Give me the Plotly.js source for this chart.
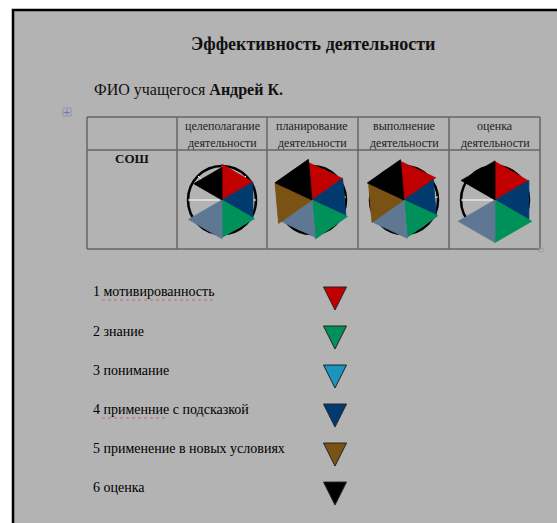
<!DOCTYPE html>
<html>
<head>
<meta charset="utf-8">
<script src="https://cdn.plot.ly/plotly-3.0.1.min.js"></script>
<style>
html,body{margin:0;padding:0;background:#fff;}
#chart{width:557px;height:523px;}
</style>
</head>
<body>
<div id="chart"></div>
<script>
// ---------- data ----------
const pageTitle = 'Эффективность деятельности';
const studentLabel = 'ФИО учащегося';
const studentName = 'Андрей К.';
const rowLabel = 'СОШ';
const headerLine1 = ['целеполагание', 'планирование', 'выполнение', 'оценка'];
const headerLine2 = ['деятельности', 'деятельности', 'деятельности', 'деятельности'];

// sectors clockwise from the top
const sectorNames = ['мотивированность', 'применние с подсказкой', 'знание', 'понимание', 'применение в новых условиях', 'оценка'];
const sectorColors = ['#c00000', '#003a6e', '#00905a', '#5e7893', '#7a5214', '#000000'];

// radius of each triangle (1 = outer ring)
const goalSetting = [1.05, 1.05, 1.10, 1.14, 0.00, 0.96];
const planning    = [1.10, 1.10, 1.15, 1.10, 1.20, 1.20];
const execution   = [1.14, 1.05, 1.10, 1.13, 1.15, 1.19];
const evaluation  = [1.13, 1.15, 1.25, 1.25, 0.00, 1.15];
const chartValues = [goalSetting, planning, execution, evaluation];

// legend list
const legendLabels = ['1 мотивированность', '2 знание', '3 понимание', '4 применние с подсказкой', '5 применение в новых условиях', '6 оценка'];
const legendColors = ['#c00000', '#00905a', '#1a95bd', '#003a6e', '#7a5214', '#000000'];

// ---------- layout helpers ----------
const W = 557, H = 523;
const px = x => x / W;
const py = y => 1 - y / H;
const serif = 'Liberation Serif, Times New Roman, serif';

const colLines = [87, 177, 267, 358, 449, 540];
const colCenters = [222, 312, 404, 495];
const chartRot = [90, 95, 95, 90];
const chartCy = 200;
const rMax = 1.4, pxPerUnit = 34;
const half = rMax * pxPerUnit;

const traces = [];
const layout = {
  width: W, height: H,
  margin: {l: 0, r: 0, t: 0, b: 0},
  paper_bgcolor: '#ffffff',
  plot_bgcolor: 'rgba(0,0,0,0)',
  showlegend: false,
  font: {family: serif, color: '#111'},
  shapes: [],
  annotations: []
};

// page background box
layout.shapes.push({type: 'rect', xref: 'paper', yref: 'paper', layer: 'below',
  x0: px(13), x1: 1.05, y0: py(10), y1: -0.05,
  fillcolor: '#b3b3b3', line: {color: '#000', width: 2.5}});

// table grid
const tblTop = 117, tblHead = 150, tblBot = 249;
colLines.forEach(x => layout.shapes.push({type: 'line', xref: 'paper', yref: 'paper', layer: 'below',
  x0: px(x), x1: px(x), y0: py(tblTop), y1: py(tblBot), line: {color: '#666', width: 1.5}}));
[tblTop, tblHead, tblBot].forEach(y => layout.shapes.push({type: 'line', xref: 'paper', yref: 'paper', layer: 'below',
  x0: px(colLines[0]), x1: px(colLines[colLines.length - 1]), y0: py(y), y1: py(y), line: {color: '#666', width: 1.5}}));
// table handles
layout.shapes.push({type: 'rect', xref: 'paper', yref: 'paper', layer: 'below',
  x0: px(63), x1: px(71), y0: py(108), y1: py(116), fillcolor: 'rgba(0,0,0,0)', line: {color: '#8a96b8', width: 1}});
layout.shapes.push({type: 'rect', xref: 'paper', yref: 'paper', layer: 'below',
  x0: px(539), x1: px(543), y0: py(248), y1: py(252), fillcolor: 'rgba(0,0,0,0)', line: {color: '#999', width: 0.8}});
layout.annotations.push({xref: 'paper', yref: 'paper', x: px(67), y: py(112), text: '+', showarrow: false,
  font: {size: 9, color: '#5a6fb0', family: 'DejaVu Sans'}, xanchor: 'center', yanchor: 'middle'});

// spell-check underlines
[[102, 213, 300], [102, 168, 418]].forEach(s => layout.shapes.push({type: 'line', xref: 'paper', yref: 'paper',
  x0: px(s[0]), x1: px(s[1]), y0: py(s[2]), y1: py(s[2]), line: {color: '#c86a6a', width: 1, dash: 'dot'}}));

// texts
layout.annotations.push({xref: 'paper', yref: 'paper', x: px(313), y: py(44), text: '<b>' + pageTitle + '</b>',
  showarrow: false, font: {size: 18, color: '#111', family: serif}, xanchor: 'center', yanchor: 'middle'});
layout.annotations.push({xref: 'paper', yref: 'paper', x: px(92), y: py(90), text: studentLabel + ' <b>' + studentName + '</b>',
  showarrow: false, font: {size: 16, color: '#111', family: serif}, xanchor: 'left', yanchor: 'middle'});
layout.annotations.push({xref: 'paper', yref: 'paper', x: px(132), y: py(159), text: '<b>' + rowLabel + '</b>',
  showarrow: false, font: {size: 13, color: '#111', family: serif}, xanchor: 'center', yanchor: 'middle'});
headerLine1.forEach((t, i) => {
  layout.annotations.push({xref: 'paper', yref: 'paper', x: px(colCenters[i]), y: py(126), text: t,
    showarrow: false, font: {size: 12, color: '#222', family: serif}, xanchor: 'center', yanchor: 'middle'});
  layout.annotations.push({xref: 'paper', yref: 'paper', x: px(colCenters[i]), y: py(143), text: headerLine2[i],
    showarrow: false, font: {size: 12, color: '#222', family: serif}, xanchor: 'center', yanchor: 'middle'});
});

// polar charts
const step = 360 / sectorNames.length;
const spokeStep = 45;
chartValues.forEach((vals, c) => {
  const key = c === 0 ? 'polar' : 'polar' + (c + 1);
  const cx = colCenters[c];
  layout[key] = {
    domain: {x: [px(cx - half), px(cx + half)], y: [py(chartCy + half), py(chartCy - half)]},
    bgcolor: 'rgba(0,0,0,0)',
    radialaxis: {range: [0, rMax], tickmode: 'array', tickvals: [1], showticklabels: false, ticks: '',
      showline: false, gridcolor: '#000', gridwidth: 2.5},
    angularaxis: {rotation: chartRot[c], direction: 'clockwise', showgrid: false,
      showticklabels: false, ticks: '', showline: false}
  };
  // white spokes inside the ring
  const sr = [], st = [];
  for (let a = 0; a < 360; a += spokeStep) { sr.push(0, 1, null); st.push(a, a, null); }
  traces.push({type: 'scatterpolar', subplot: key, mode: 'lines', r: sr, theta: st,
    line: {color: '#ffffff', width: 1}, hoverinfo: 'skip', connectgaps: false});
  vals.forEach((v, s) => {
    traces.push({
      type: 'scatterpolar', subplot: key, mode: 'lines', fill: 'toself',
      r: [0, v, v, 0], theta: [0, s * step, (s + 1) * step, 0],
      fillcolor: sectorColors[s], line: {color: sectorColors[s], width: 0.8},
      name: sectorNames[s], hoverinfo: 'skip'
    });
  });
});

// legend list: text
layout.xaxis = {domain: [px(93), px(330)], range: [0, 1], visible: false, fixedrange: true};
layout.yaxis = {domain: [py(508.6), py(273.4)], type: 'category', range: [5.5, -0.5], visible: false, fixedrange: true};
traces.push({type: 'scatter', xaxis: 'x', yaxis: 'y', mode: 'text',
  x: legendLabels.map(() => 0), y: legendLabels, text: legendLabels, textposition: 'middle right',
  textfont: {family: serif, size: 14, color: '#000'}, cliponaxis: false, hoverinfo: 'skip'});

// legend list: triangles (tip at the point)
layout.xaxis2 = {domain: [px(315), px(355)], range: [-1, 1], visible: false, fixedrange: true};
layout.yaxis2 = {domain: [0, py(290.5)], type: 'category', range: [5.46, -0.5], visible: false, fixedrange: true};
traces.push({type: 'scatter', xaxis: 'x2', yaxis: 'y2', mode: 'markers',
  x: legendLabels.map(() => 0), y: legendLabels,
  marker: {symbol: 'arrow-down', size: 23, color: legendColors, line: {color: '#222', width: 1}},
  cliponaxis: false, hoverinfo: 'skip'});

Plotly.newPlot('chart', traces, layout, {staticPlot: true, displayModeBar: false});
</script>
</body>
</html>
